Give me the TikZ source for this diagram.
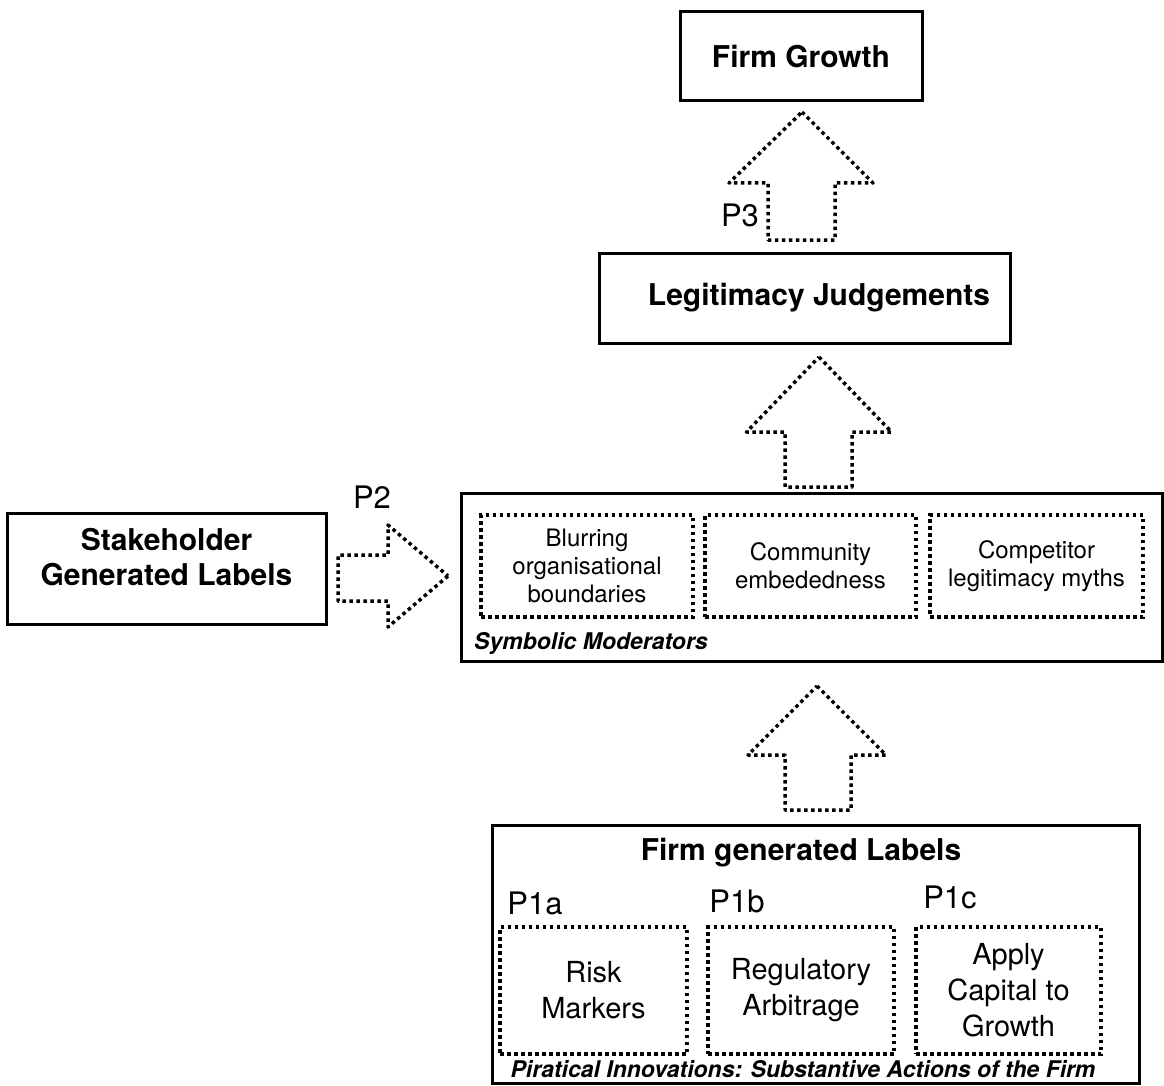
\documentclass[tikz,border=0pt]{standalone}
\usepackage{fontspec}
\setmainfont{TeX Gyre Heros}
\usetikzlibrary{positioning}

\tikzset{
  solidbox/.style={draw,line width=3pt,inner sep=0pt,align=center},
  dotbox/.style={draw,line width=3.5pt,dash pattern=on 3.5pt off 3.5pt,inner sep=0pt,align=center},
  dotline/.style={line width=3.5pt,dash pattern=on 3.5pt off 3.5pt,line join=round},
  titlefont/.style={font=\fontsize{30}{35}\selectfont\bfseries,align=center},
  modfont/.style={font=\fontsize{24}{28}\selectfont},
  itemfont/.style={font=\fontsize{29}{36}\selectfont},
  plabel/.style={font=\fontsize{31}{36}\selectfont,inner sep=0pt},
  capfont/.style={font=\fontsize{23}{26}\selectfont\bfseries\itshape,inner sep=0pt}
}

\begin{document}
\begin{tikzpicture}[x=1pt,y=-1pt]
\useasboundingbox (0,0) rectangle (1164,1086);

% boxes
\node[solidbox,titlefont,minimum width=242,minimum height=89] (growth) at (801,56.5) {Firm Growth};
\node[solidbox,minimum width=411,minimum height=90] (legit) at (804.5,298) {};
\node[titlefont] (legittxt) at (819,298) {Legitimacy Judgements};
\node[solidbox,minimum width=319,minimum height=111] (stake) at (166.5,568.5) {};
\node[titlefont] (staketxt) at (166.5,557) {Stakeholder\\Generated Labels};

\node[solidbox,minimum width=701,minimum height=168] (symb) at (811.5,577) {};
\node[dotbox,modfont,minimum width=212,minimum height=102] (mod1) at (587,566) {Blurring\\organisational\\boundaries};
\node[dotbox,modfont,minimum width=211,minimum height=102] (mod2) at (810.5,566) {Community\\embededness};
\node[dotbox,modfont,minimum width=213,minimum height=102] (mod3) at (1036.5,566) {Competitor\\legitimacy myths};
\node[capfont,anchor=west] (symbtxt) at (474,643) {Symbolic Moderators};

\node[solidbox,minimum width=647,minimum height=258] (firm) at (815.5,954) {};
\node[titlefont] (firmtxt) at (801,853) {Firm generated Labels};
\node[dotbox,itemfont,minimum width=187,minimum height=127] (sub1) at (593.5,990.5) {Risk\\Markers};
\node[dotbox,itemfont,minimum width=186,minimum height=127] (sub2) at (801,990.5) {Regulatory\\Arbitrage};
\node[dotbox,itemfont,minimum width=185,minimum height=127] (sub3) at (1008.5,990.5) {Apply\\Capital to\\Growth};
\node[plabel] (p1a) at (535,903) {P1a};
\node[plabel] (p1b) at (737,901) {P1b};
\node[plabel] (p1c) at (950,897) {P1c};
\node[capfont] (pirtxt) at (803,1069) {Piratical Innovations: Substantive Actions of the Firm};

\node[plabel] (p2) at (372,497) {P2};
\node[plabel] (p3) at (740,215) {P3};

% block arrows
\draw[dotline] (802,112) -- (873,183) -- (835,183) -- (835,240) -- (768,240) -- (768,183) -- (729,183) -- cycle;
\draw[dotline] (819,357) -- (891.5,432) -- (852,432) -- (852,487) -- (785,487) -- (785,432) -- (746.5,432) -- cycle;
\draw[dotline] (817,686) -- (886,755) -- (851,755) -- (851,810) -- (785,810) -- (785,755) -- (748,755) -- cycle;
\draw[dotline] (448,576) -- (388,627) -- (388,601) -- (338,601) -- (338,555) -- (388,555) -- (388,525) -- cycle;

\end{tikzpicture}
\end{document}
